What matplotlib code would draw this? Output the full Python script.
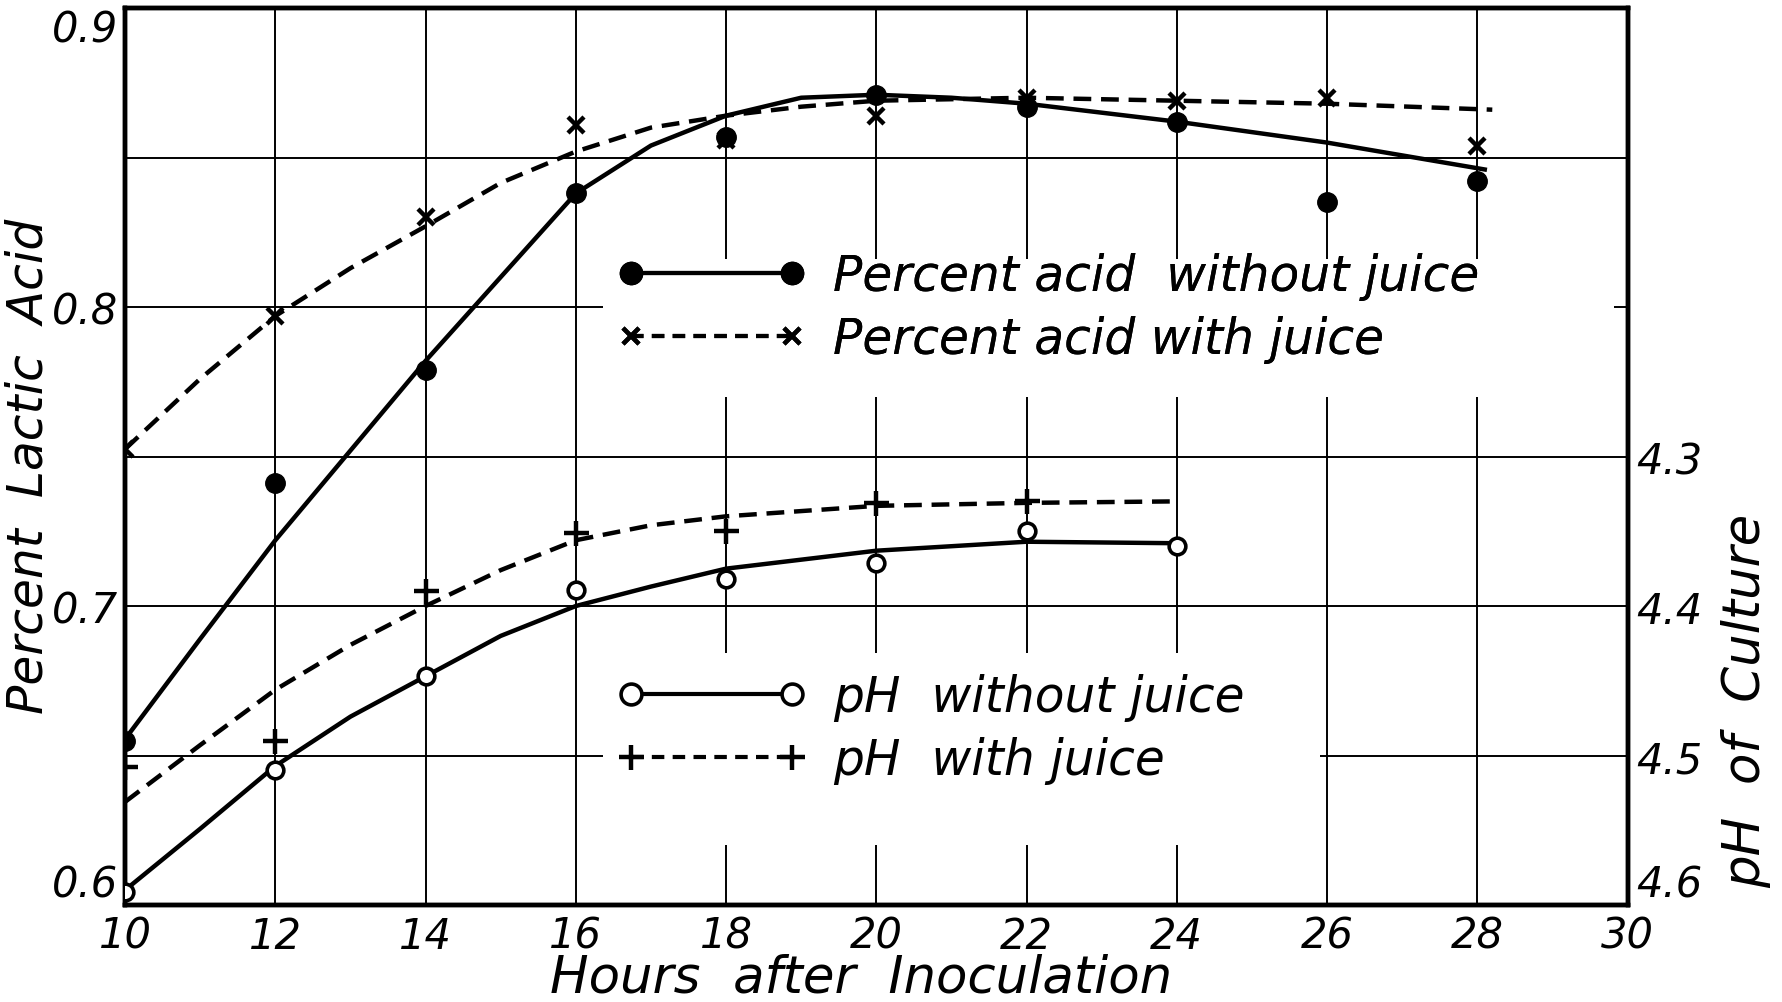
import matplotlib
matplotlib.use("Agg")
import matplotlib.pyplot as plt
from matplotlib.lines import Line2D
from matplotlib.patches import Rectangle

plt.rc('font', family='DejaVu Sans', style='italic', size=30)

# measured points
hours = [10, 12, 14, 16, 18, 20, 22, 24, 26, 28]
acid_sin_jugo = [0.655, 0.741, 0.779, 0.838, 0.857, 0.871, 0.867, 0.862, 0.835, 0.842]
acid_con_jugo = [0.7525, 0.797, 0.830, 0.861, 0.856, 0.864, 0.870, 0.869, 0.870, 0.854]

horas_ph = [10, 12, 14, 16, 18, 20, 22, 24]
ph_sin_jugo = [4.591, 4.51, 4.447, 4.389, 4.382, 4.371, 4.350, 4.360]
horas_ph_jugo = [10, 12, 14, 16, 18, 20, 22]
ph_con_jugo = [4.508, 4.49, 4.39, 4.351, 4.350, 4.331, 4.330]

# hand drawn curves
curva_h1 = [10, 11, 12, 13, 14, 15, 16, 17, 18, 19, 20, 21, 22, 24, 26, 28.1]
curva_acid_sin = [0.6555, 0.689, 0.722, 0.752, 0.782, 0.810, 0.838, 0.854, 0.864, 0.870,
                  0.871, 0.870, 0.868, 0.862, 0.855, 0.846]
curva_h2 = [10, 11, 12, 13, 14, 15, 16, 17, 18, 19, 20, 22, 24, 26, 28.2]
curva_acid_con = [0.7525, 0.776, 0.797, 0.813, 0.827, 0.8415, 0.852, 0.860, 0.864, 0.867,
                  0.869, 0.870, 0.869, 0.868, 0.866]
curva_h3 = [10, 11, 12, 13, 14, 15, 16, 17, 18, 20, 21, 22, 24]
curva_ph_sin = [4.59, 4.549, 4.507, 4.474, 4.447, 4.42, 4.40, 4.387, 4.375, 4.363, 4.36, 4.357, 4.358]
curva_h4 = [10, 11, 12, 13, 14, 15, 16, 17, 18, 20, 22, 24]
curva_ph_con = [4.531, 4.493, 4.456, 4.426, 4.40, 4.376, 4.356, 4.346, 4.34, 4.333, 4.331, 4.330]

fig = plt.figure(figsize=(17.82, 10.03), dpi=100)
ax = fig.add_axes([0.0702, 0.0967, 0.8431, 0.8943])
ax2 = ax.twinx()

ax.set_xlim(10, 30)
ax.set_ylim(0.6, 0.9)
ax2.set_ylim(4.6, 4.0)

ax.set_xticks(range(10, 31, 2))
ax.set_yticks([0.6, 0.7, 0.8, 0.9])
ax.set_yticklabels(["0.6", "0.7", "0.8", "0.9"])
ax.set_yticks([0.65, 0.75, 0.85], minor=True)
ax2.set_yticks([4.3, 4.4, 4.5, 4.6])
ax.set_axisbelow(True)
ax.grid(True, which='both', color='black', linewidth=1.4)
ax.tick_params(which='both', length=0)
ax.tick_params(axis='x', pad=7)
ax.tick_params(axis='y', pad=5)
ax2.tick_params(length=0, pad=6)
for a in (ax, ax2):
    for s in a.spines.values():
        s.set_linewidth(3.2)

# corner labels sit inside the corners like the lettering does
yt = ax.yaxis.get_major_ticks()
yt[0].label1.set_va('bottom')
yt[-1].label1.set_va('top')
ax2.yaxis.get_major_ticks()[-1].label2.set_va('bottom')

# blank paper where the keys are lettered
ax.add_patch(Rectangle((0.318, 0.5665), 0.673, 0.1535, transform=ax.transAxes,
                       facecolor='white', edgecolor='none', zorder=1))
ax.add_patch(Rectangle((0.318, 0.0672), 0.477, 0.2142, transform=ax.transAxes,
                       facecolor='white', edgecolor='none', zorder=1))

dash = (0, (4, 2.2))
ax.plot(curva_h1, curva_acid_sin, color='black', lw=3.2, zorder=3)
ax.plot(curva_h2, curva_acid_con, color='black', lw=3.2, ls=dash, zorder=3)
ax.plot(hours, acid_sin_jugo, 'o', color='black', ms=14, zorder=4)
ax.plot(hours, acid_con_jugo, 'x', color='black', ms=12, mew=3.2, zorder=4)

ax2.plot(curva_h3, curva_ph_sin, color='black', lw=3.2, zorder=3)
ax2.plot(curva_h4, curva_ph_con, color='black', lw=3.2, ls=dash, zorder=3)
ax2.plot(horas_ph, ph_sin_jugo, 'o', mfc='white', mec='black', ms=12, mew=2.6, zorder=4)
ax2.plot(horas_ph_jugo, ph_con_jugo, '+', color='black', ms=18, mew=3.2, zorder=4)

h1 = Line2D([], [], color='black', lw=3, marker='o', ms=16)
h2 = Line2D([], [], color='black', lw=3, ls=(0, (3, 2)), marker='x', ms=11, mew=3.2)
h3 = Line2D([], [], color='black', lw=3, marker='o', ms=15, mfc='white', mew=2.6)
h4 = Line2D([], [], color='black', lw=3, ls=(0, (3, 2)), marker='+', ms=18, mew=3.2)

fs = 35
opts = dict(loc='center left', numpoints=2, frameon=False, borderpad=0,
            handlelength=3.9, handletextpad=0.55, labelspacing=0.3, fontsize=fs)
leg1 = ax.legend([h1, h2], ["Percent acid  without juice", "Percent acid with juice"],
                 bbox_to_anchor=(0.311, 0.666), **opts)
ax.add_artist(leg1)
leg2 = ax2.legend([h3, h4], ["pH  without juice", "pH  with juice"],
                  bbox_to_anchor=(0.311, 0.197), **opts)

fig.text(0.016, 0.535, "Percent  Lactic  Acid", rotation=90, ha='center', va='center', fontsize=35)
fig.text(0.980, 0.301, "pH  of  Culture", rotation=90, ha='center', va='center', fontsize=37)
fig.text(0.483, 0.024, "Hours  after  Inoculation", ha='center', va='center', fontsize=37)

fig.savefig("out.png", dpi=100, facecolor='white')
